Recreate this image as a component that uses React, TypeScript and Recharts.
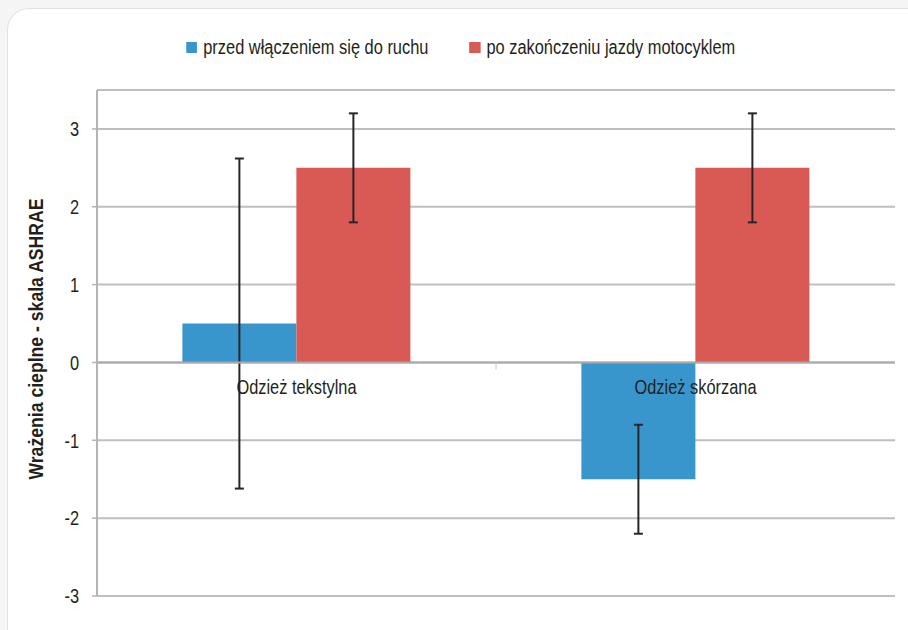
import React from 'react';
import {
  BarChart,
  Bar,
  XAxis,
  YAxis,
  CartesianGrid,
  ReferenceLine,
  ErrorBar,
  Legend,
} from 'recharts';

const categories = ['Odzież tekstylna', 'Odzież skórzana'];
const beforeValues = [0.5, -1.5];
const afterValues = [2.5, 2.5];
const beforeErrors = [2.12, 0.7];
const afterErrors = [0.7, 0.7];
const yTicks = [-3, -2, -1, 0, 1, 2, 3];
const seriesNames = ['przed włączeniem się do ruchu', 'po zakończeniu jazdy motocyklem'];
const seriesColors = ['#3896cd', '#d95a55'];
const yTitle = 'Wrażenia cieplne - skala ASHRAE';

const data = categories.map((name, i) => ({
  name,
  before: beforeValues[i],
  after: afterValues[i],
  beforeErr: beforeErrors[i],
  afterErr: afterErrors[i],
}));

const FONT = "'Liberation Sans', Arial, sans-serif";
const TEXT = '#231f20';
const NARROW = 0.82;

const NarrowText = ({ x, y, anchor = 'middle', size = 20, weight = 'normal', rotate = 0, scale = NARROW, dy = 0, children }: any) => (
  <text
    transform={`translate(${x},${y}) rotate(${rotate}) scale(${scale},1)`}
    textAnchor={anchor}
    dy={dy}
    fontFamily={FONT}
    fontSize={size}
    fontWeight={weight}
    fill={TEXT}
  >
    {children}
  </text>
);

const LegendContent = () => (
  <div style={{ display: 'flex', justifyContent: 'center' }}>
    <div
      style={{
        display: 'flex',
        alignItems: 'center',
        fontFamily: FONT,
        fontSize: 20,
        color: TEXT,
        whiteSpace: 'nowrap',
        transform: `scaleX(${NARROW})`,
        transformOrigin: 'center',
      }}
    >
      {seriesNames.map((n, i) => (
        <div key={n} style={{ display: 'flex', alignItems: 'center', marginLeft: i === 0 ? 0 : 41 / NARROW }}>
          <span
            style={{
              display: 'inline-block',
              width: 11 / NARROW,
              height: 11,
              background: seriesColors[i],
              marginRight: 6 / NARROW,
            }}
          />
          <span>{n}</span>
        </div>
      ))}
    </div>
  </div>
);

const ZeroLabels = (props: any) => {
  const vb = props.viewBox || {};
  const n = categories.length;
  const band = vb.width / n;
  return (
    <g>
      {categories.slice(1).map((_, i) => (
        <line
          key={'t' + i}
          x1={vb.x + band * (i + 1)}
          x2={vb.x + band * (i + 1)}
          y1={vb.y}
          y2={vb.y + 7}
          stroke="#c8c8c8"
          strokeWidth={1}
        />
      ))}
      {categories.map((c, i) => (
        <NarrowText key={c} x={vb.x + band * (i + 0.5)} y={vb.y + 32}>
          {c}
        </NarrowText>
      ))}
    </g>
  );
};

const YTitle = (props: any) => {
  const vb = props.viewBox || {};
  return (
    <NarrowText x={vb.x + 43} y={vb.y + vb.height / 2 - 4} rotate={-90} size={21} weight="bold" scale={0.84}>
      {yTitle}
    </NarrowText>
  );
};

const YTick = (props: any) => {
  const { x, y, payload } = props;
  return (
    <NarrowText x={x} y={y} anchor="end" dy="0.36em">
      {payload.value}
    </NarrowText>
  );
};

export default function App() {
  return (
    <div
      style={{
        position: 'absolute',
        left: 0,
        top: 0,
        width: 908,
        height: 630,
        background: '#f5f5f5',
        overflow: 'hidden',
      }}
    >
      <div
        style={{
          position: 'absolute',
          left: 7,
          top: 8,
          width: 930,
          height: 680,
          border: '1.5px solid #e2e2e2',
          borderRadius: 22,
          background: '#ffffff',
          boxSizing: 'border-box',
        }}
      />
      <div style={{ position: 'absolute', left: 0, top: 0 }}>
        <BarChart
          width={908}
          height={630}
          data={data}
          margin={{ top: 90, right: 13, bottom: 34, left: 0 }}
          barGap={0}
          barCategoryGap="21.4%"
        >
          <CartesianGrid vertical={false} stroke="#bfbfbf" strokeWidth={2} />
          <XAxis dataKey="name" hide />
          <YAxis
            width={97}
            domain={[-3, 3.5]}
            ticks={yTicks}
            allowDataOverflow
            axisLine={{ stroke: '#b4b4b6', strokeWidth: 2 }}
            tickLine={{ stroke: '#b4b4b6', strokeWidth: 1.5 }}
            tickSize={5}
            tickMargin={13}
            tick={<YTick />}
            label={{ content: <YTitle /> }}
          />
          <Legend
            verticalAlign="middle"
            align="center"
            layout="horizontal"
            wrapperStyle={{ top: 36, left: 14, width: 894 }}
            content={<LegendContent />}
          />
          <Bar dataKey="before" name={seriesNames[0]} fill={seriesColors[0]} isAnimationActive={false}>
            <ErrorBar dataKey="beforeErr" width={4.5} stroke="#262626" strokeWidth={2} direction="y" isAnimationActive={false} />
          </Bar>
          <Bar dataKey="after" name={seriesNames[1]} fill={seriesColors[1]} isAnimationActive={false}>
            <ErrorBar dataKey="afterErr" width={4.5} stroke="#262626" strokeWidth={2} direction="y" isAnimationActive={false} />
          </Bar>
          <ReferenceLine y={0} stroke="#a9a9ac" strokeWidth={2} label={<ZeroLabels />} />
        </BarChart>
      </div>
    </div>
  );
}
